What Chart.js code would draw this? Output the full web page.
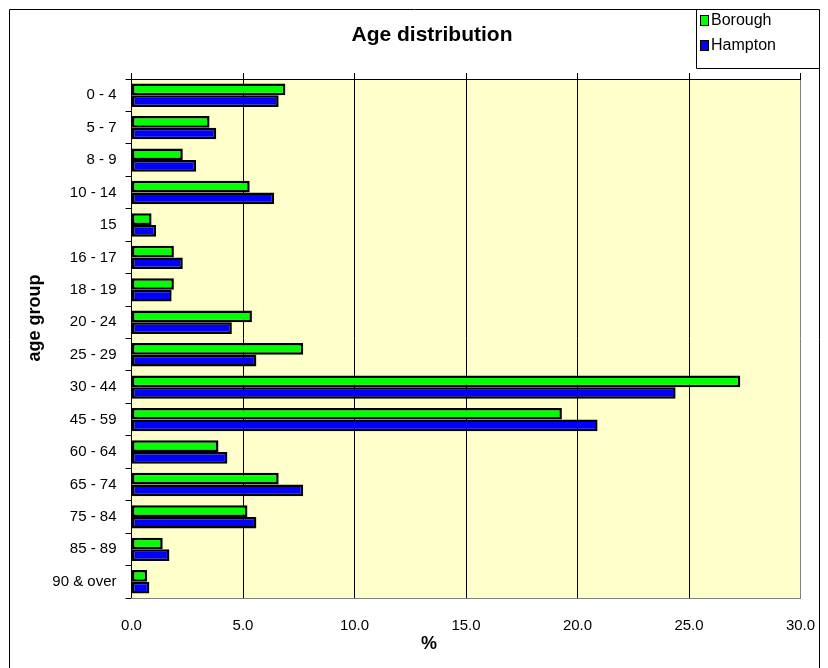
<!DOCTYPE html>
<html>
<head>
<meta charset="utf-8">
<script src="https://cdn.jsdelivr.net/npm/chart.js@4.4.1/dist/chart.umd.min.js"></script>
<style>
  html, body { margin: 0; padding: 0; background: #ffffff; }
  #c { display: block; }
</style>
</head>
<body>
<canvas id="c" width="828" height="668"></canvas>
<script>
const categories = ['0 - 4', '5 - 7', '8 - 9', '10 - 14', '15', '16 - 17', '18 - 19', '20 - 24',
  '25 - 29', '30 - 44', '45 - 59', '60 - 64', '65 - 74', '75 - 84', '85 - 89', '90 & over'];
const borough = [6.9, 3.5, 2.3, 5.3, 0.9, 1.9, 1.9, 5.4, 7.7, 27.3, 19.3, 3.9, 6.6, 5.2, 1.4, 0.7];
const hampton = [6.6, 3.8, 2.9, 6.4, 1.1, 2.3, 1.8, 4.5, 5.6, 24.4, 20.9, 4.3, 7.7, 5.6, 1.7, 0.8];
const xTicks = [0, 5, 10, 15, 20, 25, 30];
const seriesNames = ['Borough', 'Hampton'];
const seriesColors = ['#00FF00', '#0000FF'];
const chartTitle = 'Age distribution';
const xTitle = '%';
const yTitle = 'age group';

const FONT = '"Liberation Sans", Arial, Helvetica, sans-serif';

const decorPlugin = {
  id: 'decor',
  beforeDraw(chart) {
    const { ctx, chartArea: a } = chart;
    ctx.save();
    ctx.fillStyle = '#FFFFCC';
    ctx.fillRect(a.left, a.top, a.right - a.left, a.bottom - a.top);
    ctx.restore();
  },
  afterDraw(chart) {
    const { ctx } = chart;
    ctx.save();
    // outer frame
    ctx.strokeStyle = '#000';
    ctx.lineWidth = 1;
    ctx.beginPath();
    ctx.moveTo(9.5, 672); ctx.lineTo(9.5, 9.5); ctx.lineTo(819.5, 9.5); ctx.lineTo(819.5, 672);
    ctx.stroke();
    // legend box
    ctx.beginPath();
    ctx.moveTo(696.5, 9.5); ctx.lineTo(696.5, 68.5); ctx.lineTo(819.5, 68.5);
    ctx.stroke();
    // legend items
    const ys = [20, 45];
    chart.data.datasets.forEach((ds, i) => {
      ctx.fillStyle = ds.backgroundColor;
      ctx.fillRect(700, ys[i] - 5, 9, 11);
      ctx.strokeStyle = '#000';
      ctx.lineWidth = 1;
      ctx.strokeRect(700.5, ys[i] - 4.5, 8, 10);
      ctx.fillStyle = '#000';
      ctx.font = '16px ' + FONT;
      ctx.textAlign = 'left';
      ctx.textBaseline = 'middle';
      ctx.fillText(ds.label, 711, ys[i] + 1);
    });
    // title
    ctx.fillStyle = '#000';
    ctx.font = 'bold 21px ' + FONT;
    ctx.textAlign = 'center';
    ctx.textBaseline = 'middle';
    ctx.fillText(chartTitle, 432, 35);
    // x title
    ctx.font = 'bold 18px ' + FONT;
    ctx.fillText(xTitle, 429, 644);
    // y title
    ctx.font = 'bold 18px ' + FONT;
    ctx.translate(35, 318);
    ctx.rotate(-Math.PI / 2);
    ctx.fillText(yTitle, 0, 0);
    ctx.restore();
  }
};

new Chart(document.getElementById('c'), {
  type: 'bar',
  data: {
    labels: categories,
    datasets: [
      { label: seriesNames[0], data: borough, backgroundColor: seriesColors[0] },
      { label: seriesNames[1], data: hampton, backgroundColor: seriesColors[1] }
    ]
  },
  options: {
    indexAxis: 'y',
    responsive: false,
    animation: false,
    devicePixelRatio: 1,
    layout: { padding: { left: 10, right: 27.5, top: 73, bottom: 0 } },
    datasets: {
      bar: {
        borderColor: '#000',
        borderWidth: 2.5,
        borderSkipped: false,
        categoryPercentage: 0.72,
        barPercentage: 1.0
      }
    },
    plugins: {
      legend: { display: false },
      title: { display: false },
      tooltip: { enabled: false }
    },
    scales: {
      y: {
        type: 'category',
        position: 'left',
        grid: { drawOnChartArea: false, drawTicks: true, tickLength: 6, color: '#000', offset: true },
        border: { color: '#000', width: 1 },
        ticks: { font: { family: FONT, size: 15 }, color: '#000', padding: 9, autoSkip: false },
        afterFit(s) { s.width = 121.5; }
      },
      x: {
        type: 'linear',
        position: 'bottom',
        min: 0, max: 30,
        afterBuildTicks(s) { s.ticks = xTicks.map(v => ({ value: v })); },
        grid: {
          drawTicks: true,
          tickLength: 19,
          tickColor: 'rgba(0,0,0,0)',
          color: (c) => (c.tick && c.tick.value === 30 ? '#808080' : '#000'),
          lineWidth: 1
        },
        border: { color: '#808080', width: 1 },
        ticks: {
          font: { family: FONT, size: 15 }, color: '#000', padding: 0,
          callback: (v) => Number(v).toFixed(1), maxRotation: 0
        },
        afterFit(s) { s.height = 70; }
      },
      x2: {
        type: 'linear',
        axis: 'x',
        position: 'top',
        min: 0, max: 30,
        afterBuildTicks(s) { s.ticks = xTicks.map(v => ({ value: v })); },
        grid: { drawOnChartArea: false, drawTicks: true, tickLength: 6, color: '#000' },
        border: { color: '#000', width: 1 },
        ticks: { display: false },
        afterFit(s) { s.height = 6; }
      }
    }
  },
  plugins: [decorPlugin]
});
</script>
</body>
</html>
